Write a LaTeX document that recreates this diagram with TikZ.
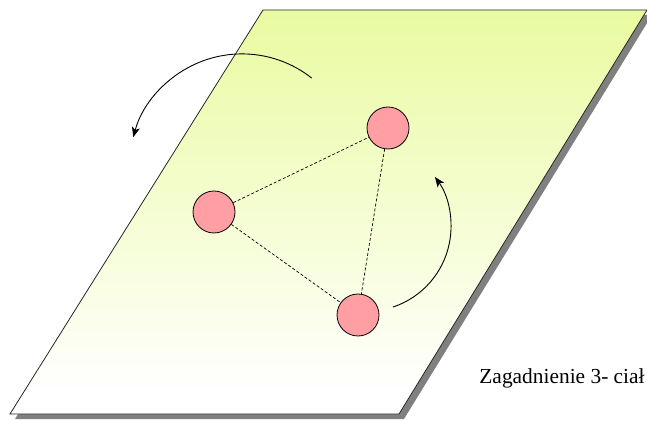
\documentclass[tikz,border=0pt]{standalone}
\usepackage{fontspec}
\setmainfont{Liberation Serif}
\usetikzlibrary{arrows.meta,calc}
\definecolor{planetop}{RGB}{233,251,160}
\definecolor{bodypink}{RGB}{255,159,163}
\definecolor{shadowgray}{RGB}{128,128,128}
\pgfdeclareverticalshading{planeshade}{100bp}{color(0bp)=(white); color(27.4bp)=(white); color(75bp)=(planetop); color(100bp)=(planetop)}
\tikzset{
  body/.style={circle, draw=black, line width=0.8pt, fill=bodypink, minimum size=42pt, inner sep=0pt},
  bond/.style={draw=black, line width=0.7pt, dash pattern=on 3pt off 2pt},
  motion/.style={draw=black, line width=0.9pt, -{Stealth[length=10pt,width=8pt,inset=2.5pt]}},
}
\begin{document}
\begin{tikzpicture}[x=1pt,y=1pt]
\useasboundingbox (0,0) rectangle (647,420);
% shadow
\fill[shadowgray] ([shift={(5,-5)}]263,410) -- ([shift={(5,-5)}]647,410) -- ([shift={(5,-5)}]399,6) -- ([shift={(5,-5)}]10,6) -- cycle;
% plane
\shade[shading=planeshade, draw=black!85, line width=0.8pt]
  (263,410) -- (647,410) -- (399,6) -- (10,6) -- cycle;
% bodies
\node[body] (A) at (214,208) {};
\node[body] (B) at (388,292) {};
\node[body] (C) at (358,105) {};
\draw[bond] (A) -- (B);
\draw[bond] (A) -- (C);
\draw[bond] (B) -- (C);
% rotation arrows
\coordinate (L0) at ($(242,253.5)+(51.7:112.6)$);
\coordinate (R0) at ($(366.2,193.4)+(-71.6:84.8)$);
\draw[motion] (L0) arc[start angle=51.7, end angle=164.9, radius=112.6];
\draw[motion] (R0) arc[start angle=-71.6, end angle=35.8, radius=84.8];
% caption
\node[anchor=base, font=\fontsize{21.4}{25}\selectfont, inner sep=0pt] (T) at (562,37) {Zagadnienie 3- ciał};
\end{tikzpicture}
\end{document}
